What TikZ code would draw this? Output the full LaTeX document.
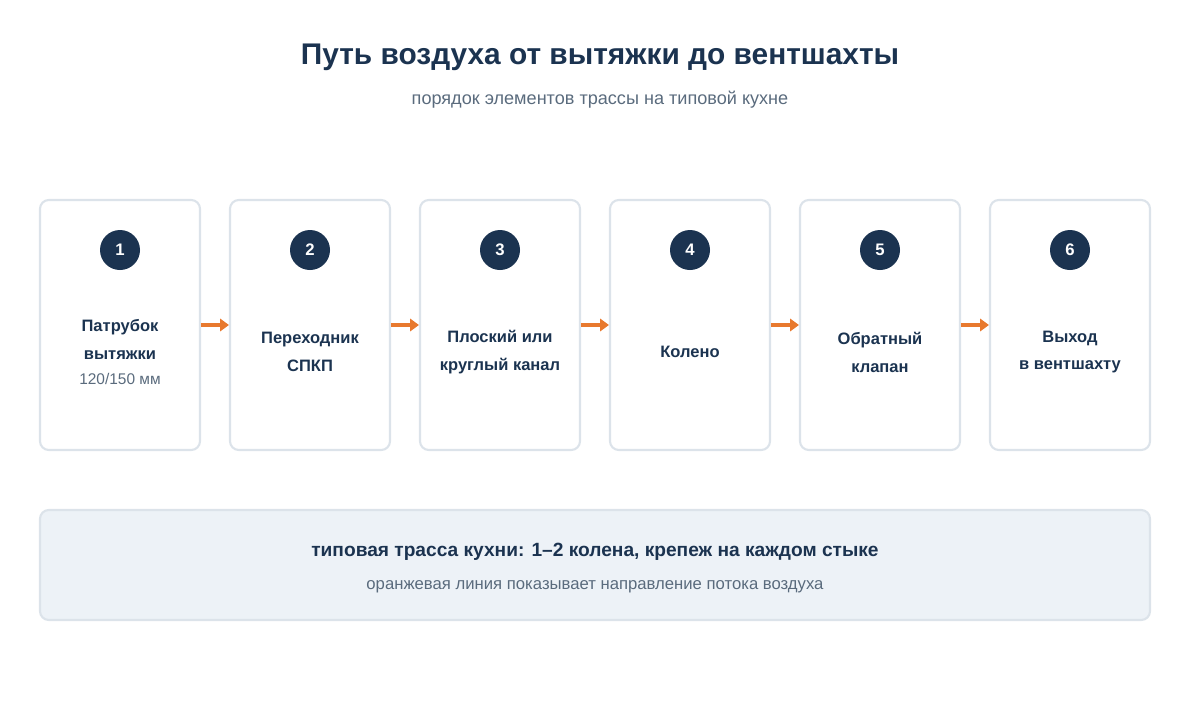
\documentclass[tikz,border=0pt]{standalone}
\usepackage{fontspec}
\setmainfont{Liberation Sans}
\usetikzlibrary{positioning,arrows.meta}
\definecolor{navy}{HTML}{1B3350}
\definecolor{greytext}{HTML}{5A6B7D}
\definecolor{edge}{HTML}{DCE3EA}
\definecolor{flow}{HTML}{E8792E}
\definecolor{panel}{HTML}{EDF2F7}
\tikzset{
  stage/.style={draw=edge, line width=1.2pt, fill=white, rounded corners=5pt,
    minimum width=160*0.02cm, minimum height=250*0.02cm, inner sep=0pt},
  num/.style={circle, fill=navy, text=white, minimum size=40*0.02cm, inner sep=0pt,
    font=\fontsize{9.5}{11}\selectfont\bfseries},
  stagetext/.style={text=navy, align=center, font=\fontsize{9.4}{15.9}\selectfont\bfseries},
  flowarrow/.style={draw=flow, line width=2.2pt, -{Triangle[length=5pt,width=7pt]}}
}
\begin{document}
\begin{tikzpicture}[x=0.02cm, y=-0.02cm]
\useasboundingbox (0,0) rectangle (1200,700);

\node[text=navy, font=\fontsize{17}{20}\selectfont\bfseries] (title) at (600,57) {Путь воздуха от вытяжки до вентшахты};
\node[text=greytext, font=\fontsize{10.3}{12}\selectfont] (subtitle) at (600,100) {порядок элементов трассы на типовой кухне};

% steps
\foreach \i/\txt [count=\k from 0] in {
  1/{Патрубок\\вытяжки\\[-2pt]{\mdseries\color{greytext}\fontsize{8.8}{10}\selectfont 120/150 мм}},
  2/{Переходник\\СПКП},
  3/{Плоский или\\круглый канал},
  4/{Колено},
  5/{Обратный\\клапан},
  6/{Выход\\в вентшахту}} {
  \node[stage] (box\i) at (120+190*\k,325) {};
  \node[num] (num\i) at (120+190*\k,250) {\i};
  \node[stagetext] (txt\i) at (120+190*\k,352) {\txt};
}

\foreach \a/\b in {1/2,2/3,3/4,4/5,5/6}
  \draw[flowarrow] (box\a.east) -- (box\b.west);

% summary panel
\node[draw=edge, line width=1.2pt, fill=panel, rounded corners=5pt,
  minimum width=1110*0.02cm, minimum height=110*0.02cm] (panel) at (595,565) {};
\node[text=navy, font=\fontsize{10.9}{13}\selectfont\bfseries] (note) at (595,552) {типовая трасса кухни: 1–2 колена, крепеж на каждом стыке};
\node[text=greytext, font=\fontsize{9.5}{11}\selectfont] (hint) at (595,587) {оранжевая линия показывает направление потока воздуха};
\end{tikzpicture}
\end{document}
